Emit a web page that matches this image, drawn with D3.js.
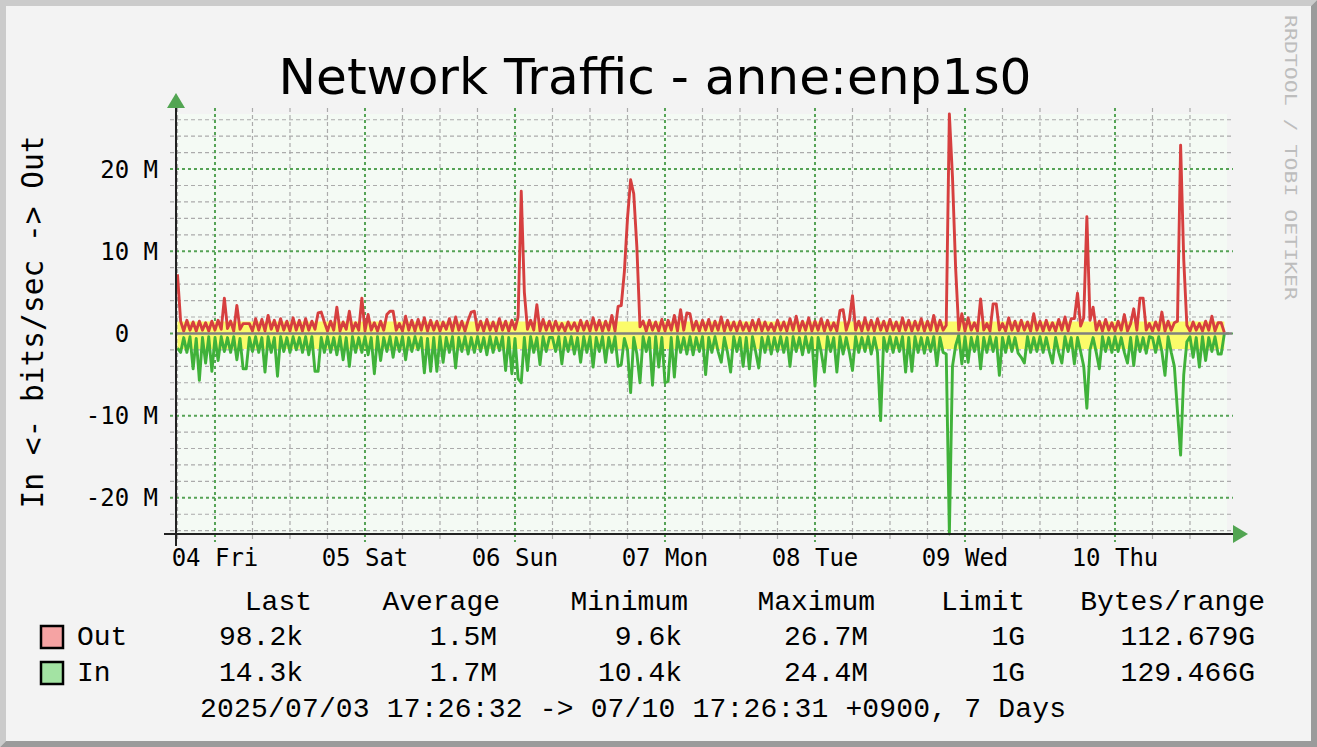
<!DOCTYPE html>
<html><head><meta charset="utf-8">
<script src="https://cdn.jsdelivr.net/npm/d3@7"></script>
<style>html,body{margin:0;padding:0;background:#f3f3f3;overflow:hidden}svg{display:block}</style>
</head><body>
<svg id="chart" width="1317" height="747"></svg>
<script>
// ---------------- DATA ----------------
const chartTitle = "Network Traffic - anne:enp1s0";
const yAxisTitle = "In <- bits/sec -> Out";
const watermark = "RRDTOOL / TOBI OETIKER";
const startTime = Date.UTC(2025, 6, 3, 17, 26, 32);   // local +0900 wall time
const endTime   = Date.UTC(2025, 6, 10, 17, 26, 31);
const firstSample = Date.UTC(2025, 6, 3, 18, 0, 0);
const stepMinutes = 30;
const yMin = -24.4e6, yMax = 26.7e6;
const yTickValues = [-20e6, -10e6, 0, 10e6, 20e6];
const yTickLabels = ["-20 M", "-10 M", "0  ", "10 M", "20 M"];
const avgBandOut = 1.45e6;   // yellow band heights (bits/sec)
const avgBandIn = 1.9e6;

// Out traffic, Mbit/s, one value per 30 minutes
const outMbps = [
 7.2,1.5,0.3,1.6,0.4,1.4,0.3,1.5,0.4,1.3,0.3,1.5,
 0.4,1.6,0.5,4.3,0.6,1.5,0.3,3.4,0.5,1.2,1.2,1.2,
 0.3,1.8,0.4,1.7,0.3,2.2,0.5,1.6,0.3,1.8,0.4,1.5,
 0.3,1.9,0.4,1.6,0.3,1.8,0.4,1.5,0.5,2.5,2.6,1.4,
 0.3,1.5,0.4,3.2,0.3,1.4,0.5,2.7,0.3,1.3,0.4,4.3,
 0.3,2.3,0.4,1.3,0.3,1.5,0.4,2.3,2.7,2.7,0.4,1.2,
 0.3,2.1,0.4,1.6,0.3,1.7,0.4,1.9,0.3,1.6,0.4,1.5,
 0.3,1.4,0.5,1.8,0.3,2.0,0.4,1.5,0.3,1.6,2.6,2.7,
 0.4,1.5,0.3,1.7,0.4,1.4,0.3,1.8,0.4,1.5,0.3,1.6,
 0.5,2.0,17.3,5.0,0.5,1.6,0.4,3.5,0.3,1.7,0.4,1.5,
 0.3,1.5,0.4,1.2,0.3,1.4,0.5,1.3,0.3,1.6,0.4,1.5,
 0.3,1.9,0.4,1.6,0.3,1.5,0.4,2.2,0.3,3.3,3.4,7.5,
 14.0,18.7,17.0,10.5,0.8,1.5,0.3,1.6,0.4,1.4,0.3,1.7,
 0.3,1.6,0.4,2.2,0.3,2.9,0.4,2.5,2.4,0.4,1.5,0.3,
 1.6,0.4,1.7,0.3,1.5,0.4,2.0,0.3,1.6,0.4,1.4,0.3,
 1.5,0.4,1.3,0.3,1.6,0.4,1.7,0.3,1.4,0.4,1.2,0.3,
 1.6,0.4,1.4,0.3,1.8,0.4,2.1,0.3,1.5,0.4,1.9,0.3,
 1.5,0.4,1.8,0.3,1.6,0.4,1.3,0.3,2.8,2.9,0.4,1.6,
 4.6,0.4,1.5,0.3,1.9,0.4,1.6,0.3,1.8,0.4,1.5,0.3,
 1.7,0.4,1.4,0.3,1.9,0.4,1.6,0.3,1.5,0.4,1.8,0.3,
 1.5,0.4,2.2,0.3,1.6,0.4,1.0,26.7,19.0,8.0,0.4,2.4,
 0.3,1.9,0.4,1.3,0.3,4.2,0.4,1.2,0.3,3.6,3.6,0.4,
 1.2,0.3,1.9,0.4,1.5,0.3,1.6,0.4,1.4,0.3,2.4,0.4,
 1.5,0.3,1.6,0.4,1.3,0.3,1.7,0.4,2.0,0.3,1.8,1.8,
 4.9,0.9,1.9,14.2,1.6,3.2,0.4,1.5,0.3,1.7,0.4,1.3,
 0.3,1.5,0.4,2.3,0.3,1.2,3.0,0.4,4.3,4.3,0.4,1.2,
 0.3,1.4,0.4,2.6,0.3,1.5,0.4,1.3,1.5,22.9,9.0,1.0,
 0.3,1.4,0.4,1.2,0.3,1.5,0.4,2.1,0.3,1.3,1.3,0.1
];

// In traffic, Mbit/s (drawn below zero), one value per 30 minutes
const inMbps = [
 1.8,2.3,0.5,2.3,0.4,4.3,0.6,5.7,0.5,3.6,0.4,4.6,
 0.5,3.3,0.4,2.2,0.5,2.3,0.4,3.2,0.6,4.3,4.3,0.5,
 2.2,0.4,2.3,0.5,4.7,0.4,2.3,0.5,5.2,0.4,2.2,0.5,
 2.3,0.4,2.0,0.5,2.3,0.4,2.6,0.4,4.6,4.6,0.5,2.3,
 0.4,2.3,0.5,2.6,0.4,3.2,0.5,4.0,0.4,2.3,0.5,2.3,
 0.4,2.6,0.5,4.9,0.4,3.3,0.5,2.2,0.4,2.9,0.5,2.2,
 0.4,3.2,0.5,2.2,0.4,2.0,0.5,4.8,0.6,4.6,0.5,4.6,
 0.4,3.5,0.5,2.3,0.4,4.2,0.5,2.2,0.4,2.5,0.5,2.3,
 0.4,2.2,0.5,2.6,0.4,2.3,0.5,2.1,0.4,4.5,0.5,4.9,
 0.6,5.5,6.0,0.5,4.5,0.4,2.3,0.5,3.8,0.4,2.2,0.5,
 0.5,2.2,0.4,3.7,0.5,2.2,0.4,2.5,0.5,3.5,0.4,2.3,
 0.4,4.1,0.5,2.2,0.4,3.5,0.5,2.3,0.4,4.0,3.8,0.6,
 2.0,7.2,0.5,2.5,6.0,0.4,2.2,0.5,6.3,0.4,4.1,0.5,
 6.0,5.8,0.5,5.3,0.4,2.3,0.5,2.5,0.4,2.6,0.5,2.2,
 0.4,5.0,0.5,2.3,0.4,2.2,3.5,0.5,2.3,4.7,0.4,2.2,
 0.5,4.0,0.5,4.3,0.4,2.2,4.2,0.5,2.3,0.4,2.5,0.5,
 2.2,0.4,2.3,0.5,4.0,0.4,2.2,0.5,2.6,0.4,2.3,0.5,
 6.4,0.5,2.3,4.7,0.4,2.2,0.5,4.7,0.4,2.5,0.5,2.3,
 4.5,0.4,2.3,0.5,2.2,0.4,2.5,0.5,2.3,10.6,0.5,2.2,
 0.4,2.3,0.5,2.2,0.4,4.7,0.5,4.6,0.4,2.3,0.5,2.4,
 0.5,2.2,0.4,3.9,0.5,2.3,2.5,24.4,4.0,1.5,0.2,3.7,
 0.4,3.5,0.5,2.2,0.4,4.3,0.5,2.3,0.4,2.2,0.5,5.1,
 0.5,2.3,0.4,2.2,0.5,2.4,2.9,3.6,0.4,2.3,0.5,2.2,
 0.4,2.3,0.5,2.2,3.6,0.5,2.3,3.6,0.4,2.2,0.5,3.7,
 0.5,2.2,4.0,9.1,2.0,0.5,2.3,4.3,0.4,2.2,0.5,2.3,
 0.4,2.2,0.5,2.3,3.6,0.5,3.9,0.4,2.2,0.5,2.4,0.4,
 0.5,2.3,0.4,2.2,5.1,0.4,2.3,4.0,9.5,14.8,5.0,1.0,
 0.4,2.9,0.5,4.1,0.4,3.3,0.5,2.2,0.4,2.5,2.5,0.014
];

const legendHeaders = ["Last", "Average", "Minimum", "Maximum", "Limit", "Bytes/range"];
const outStats = ["98.2k", "1.5M", "9.6k", "26.7M", "1G", "112.679G"];
const inStats  = ["14.3k", "1.7M", "10.4k", "24.4M", "1G", "129.466G"];
const seriesNames = ["Out", "In"];
const footerText = "2025/07/03 17:26:32 -> 07/10 17:26:31 +0900, 7 Days";

// ---------------- LAYOUT ----------------
const W = 1317, H = 747;
const P = {left: 176, right: 1227, top: 114, bottom: 534};
const headerRight = [312, 500, 688, 875, 1025, 1265];
const valueRight  = [303, 497, 682, 868, 1025, 1255];
const monoFont = "'DejaVu Sans Mono', monospace";
const legendFont = "'Liberation Mono', 'Courier New', monospace";

const svg = d3.select("#chart");

// canvas + 3D frame
svg.append("rect").attr("width", W).attr("height", H).attr("fill", "#f3f3f3");
svg.append("polygon").attr("points", "0,0 1317,0 1311,6 6,6 6,741 0,747").attr("fill", "#cbcbcb");
svg.append("polygon").attr("points", "1317,0 1317,747 0,747 6,741 1311,741 1311,6").attr("fill", "#9b9b9b");

const x = d3.scaleUtc().domain([startTime, endTime]).range([174, 1224]);
const y = d3.scaleLinear().domain([yMin, yMax]).range([P.bottom, P.top]);
const times = outMbps.map((_, i) => new Date(firstSample + i * stepMinutes * 60000));

// plot background
svg.append("rect").attr("x", P.left).attr("y", P.top)
  .attr("width", P.right - P.left).attr("height", P.bottom - P.top).attr("fill", "#f4faf4");

// grid
const grid = svg.append("g");
const minorH = d3.range(-24e6, yMax, 2e6).filter(v => v % 10e6 !== 0);
grid.selectAll(".mh").data(minorH).join("line")
  .attr("x1", 170).attr("x2", 1233).attr("y1", d => y(d)).attr("y2", d => y(d))
  .attr("stroke", "#ababab").attr("stroke-width", 1.2).attr("stroke-dasharray", "4,3");
const minorV = d3.utcHour.every(6).range(startTime, endTime).filter(d => d.getUTCHours() !== 0);
grid.selectAll(".mv").data(minorV).join("line")
  .attr("x1", d => x(d)).attr("x2", d => x(d)).attr("y1", 108).attr("y2", 540)
  .attr("stroke", "#ababab").attr("stroke-width", 1.2).attr("stroke-dasharray", "4,3");
grid.selectAll(".jh").data(yTickValues).join("line")
  .attr("x1", 170).attr("x2", 1233).attr("y1", d => y(d)).attr("y2", d => y(d))
  .attr("stroke", "#55a355").attr("stroke-width", 2).attr("stroke-dasharray", "3,3");
const days = d3.utcDay.range(startTime, endTime);
grid.selectAll(".jv").data(days).join("line")
  .attr("x1", d => x(d)).attr("x2", d => x(d)).attr("y1", 108).attr("y2", 542)
  .attr("stroke", "#55a355").attr("stroke-width", 2).attr("stroke-dasharray", "3,3");

// yellow band
const bandSpan = [times[0], times[times.length - 1]];
svg.append("path").datum(bandSpan)
  .attr("d", d3.area().x(d => x(d)).y0(y(0)).y1(y(avgBandOut)))
  .attr("fill", "#fbfb6a");
svg.append("path").datum(bandSpan)
  .attr("d", d3.area().x(d => x(d)).y0(y(0)).y1(y(-avgBandIn)))
  .attr("fill", "#fbfb6a");

// data lines
svg.append("path").datum(outMbps)
  .attr("d", d3.line().x((d, i) => x(times[i])).y(d => y(d * 1e6)))
  .attr("fill", "none").attr("stroke", "#d63f3f").attr("stroke-width", 2.9).attr("stroke-linejoin", "round");
svg.append("path").datum(inMbps)
  .attr("d", d3.line().x((d, i) => x(times[i])).y(d => y(-d * 1e6)))
  .attr("fill", "none").attr("stroke", "#40b23a").attr("stroke-width", 2.9).attr("stroke-linejoin", "round");

// zero line
svg.append("line").attr("x1", P.left).attr("x2", 1232).attr("y1", y(0)).attr("y2", y(0))
  .attr("stroke", "#808080").attr("stroke-width", 2.6);

// axes
svg.append("line").attr("x1", P.left).attr("x2", P.left).attr("y1", 106).attr("y2", 546)
  .attr("stroke", "#222").attr("stroke-width", 2);
svg.append("line").attr("x1", 164).attr("x2", 1234).attr("y1", P.bottom).attr("y2", P.bottom)
  .attr("stroke", "#222").attr("stroke-width", 2);
svg.append("polygon").attr("points", `${P.left-9},108 ${P.left+9},108 ${P.left},93`).attr("fill", "#52a552");
svg.append("polygon").attr("points", `1233,525 1233,543 1248,534`).attr("fill", "#52a552");

// y tick labels
svg.selectAll(".yl").data(yTickValues).join("text")
  .attr("x", 158).attr("y", d => y(d)).attr("dy", "0.36em")
  .attr("text-anchor", "end").style("white-space", "pre")
  .attr("font-family", monoFont).attr("font-size", 24).attr("fill", "#000")
  .text((d, i) => yTickLabels[i]);

// x labels
const fmt = d3.utcFormat("%d %a");
svg.selectAll(".xl").data(days).join("text")
  .attr("x", d => x(d)).attr("y", 566).attr("text-anchor", "middle")
  .attr("font-family", monoFont).attr("font-size", 24).attr("fill", "#000")
  .text(d => fmt(d));

// title
svg.append("text").attr("x", 655).attr("y", 94).attr("text-anchor", "middle")
  .attr("font-family", "'DejaVu Sans', sans-serif").attr("font-size", 50.2).attr("fill", "#000")
  .text(chartTitle);

// y axis title
svg.append("text").attr("transform", "translate(43,322) rotate(-90)")
  .attr("text-anchor", "middle").style("white-space", "pre")
  .attr("font-family", monoFont).attr("font-size", 29.5).attr("fill", "#000")
  .text(yAxisTitle);

// watermark
svg.append("text").attr("transform", "translate(1285,15) rotate(90)")
  .attr("font-family", monoFont).attr("font-size", 16).attr("fill", "#bdbdbd")
  .attr("textLength", 285).attr("lengthAdjust", "spacingAndGlyphs")
  .text(watermark);

// legend
const lg = svg.append("g").attr("font-family", legendFont).attr("font-size", 28).attr("fill", "#000");
lg.selectAll(".hd").data(legendHeaders).join("text")
  .attr("x", (d, i) => headerRight[i]).attr("y", 610).attr("text-anchor", "end").text(d => d);
const rows = [outStats, inStats];
const swatchFill = ["#f5a3a3", "#a3e3a3"];
rows.forEach((stats, r) => {
  const by = 645 + r * 36;
  lg.append("rect").attr("x", 41).attr("y", by - 19).attr("width", 22).attr("height", 22)
    .attr("fill", swatchFill[r]).attr("stroke", "#000").attr("stroke-width", 2.5);
  lg.append("text").attr("x", 77).attr("y", by).text(seriesNames[r]);
  lg.selectAll(".v" + r).data(stats).join("text")
    .attr("x", (d, i) => valueRight[i]).attr("y", by).attr("text-anchor", "end").text(d => d);
});
lg.append("text").attr("x", 200).attr("y", 717).style("white-space", "pre")
  .attr("textLength", 866).attr("lengthAdjust", "spacing").text(footerText);
</script>
</body></html>
